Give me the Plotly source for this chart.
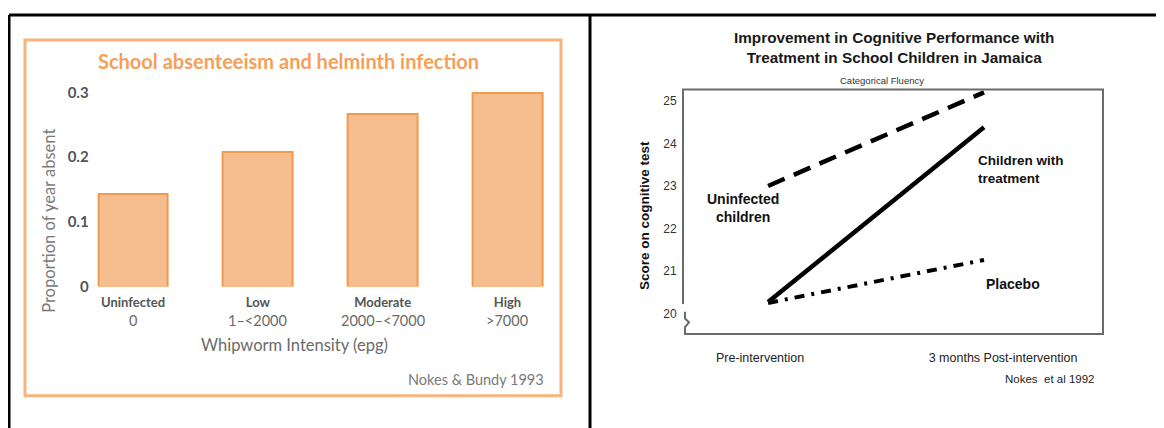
import plotly.graph_objects as go

# ---------------- data ----------------
# Left chart: school absenteeism by whipworm intensity
intensity_groups = ["Uninfected", "Low", "Moderate", "High"]
intensity_ranges = ["0", "1–&lt;2000", "2000–&lt;7000", "&gt;7000"]
proportion_absent = [0.143, 0.208, 0.266, 0.299]
absent_ticks = [0, 0.1, 0.2, 0.3]
absent_ticktext = ["0", "0.1", "0.2", "0.3"]

# Right chart: cognitive test scores pre / post intervention
time_points = [0, 1]  # 0 = Pre-intervention, 1 = 3 months Post-intervention
time_labels = ["Pre-intervention", "3 months Post-intervention"]
uninfected_scores = [23.0, 25.2]
treatment_scores = [20.27, 24.38]
placebo_scores = [20.25, 21.26]
score_ticks = [20, 21, 22, 23, 24, 25]

# ---------------- layout helpers ----------------
# the page body has an 8px margin, so the figure is offset by 8px
OFF = 8
W, H = 1164 - OFF, 428 - OFF


def fx(px):
    return (px - OFF) / W


def fy(py):
    return 1 - (py - OFF) / H


ORANGE_TXT = "#f5a05a"
BAR_FILL = "#f6bd8e"
BAR_LINE = "#f29a4e"
LATO = "Lato, Open Sans, sans-serif"
ARIAL = "Liberation Sans, Arial, sans-serif"

fig = go.Figure()

# ---- left: bars ----
fig.add_trace(go.Bar(
    x=intensity_groups, y=proportion_absent, width=0.56,
    marker=dict(color=BAR_FILL, line=dict(color=BAR_LINE, width=2)),
    xaxis="x", yaxis="y", showlegend=False, hoverinfo="x+y",
))

# ---- right: lines ----
fig.add_trace(go.Scatter(
    x=time_points, y=uninfected_scores, mode="lines",
    line=dict(color="black", width=4.5, dash="18px,10px"),
    xaxis="x2", yaxis="y2", showlegend=False, name="Uninfected children",
))
fig.add_trace(go.Scatter(
    x=time_points, y=treatment_scores, mode="lines",
    line=dict(color="black", width=4.5),
    xaxis="x2", yaxis="y2", showlegend=False, name="Children with treatment",
))
fig.add_trace(go.Scatter(
    x=time_points, y=placebo_scores, mode="lines",
    line=dict(color="black", width=4, dash="10px,7px,3px,7px"),
    xaxis="x2", yaxis="y2", showlegend=False, name="Placebo",
))

annotations = []

# left chart texts
annotations.append(dict(
    text="School absenteeism and helminth infection", x=fx(288), y=fy(57),
    xref="paper", yref="paper", showarrow=False, xanchor="center", yanchor="middle",
    font=dict(family=LATO, size=20, color=ORANGE_TXT, weight="bold"),
))
annotations.append(dict(
    text="Proportion of year absent", x=fx(49), y=fy(222), textangle=-90,
    xref="paper", yref="paper", showarrow=False, xanchor="center", yanchor="middle",
    font=dict(family=LATO, size=16.5, color="#7a7a7a"),
))
for grp, rng in zip(intensity_groups, intensity_ranges):
    annotations.append(dict(
        text=rng, x=grp, y=fy(325), xref="x", yref="paper", showarrow=False,
        xanchor="center", yanchor="middle",
        font=dict(family=LATO, size=14.5, color="#6a6a6a"),
    ))
annotations.append(dict(
    text="Whipworm Intensity (epg)", x=fx(294), y=fy(350),
    xref="paper", yref="paper", showarrow=False, xanchor="center", yanchor="middle",
    font=dict(family=LATO, size=16.5, color="#6a6a6a"),
))
annotations.append(dict(
    text="Nokes & Bundy 1993", x=fx(546), y=fy(386),
    xref="paper", yref="paper", showarrow=False, xanchor="right", yanchor="middle",
    font=dict(family=LATO, size=14.5, color="#7a7a7a"),
))

# right chart texts
annotations.append(dict(
    text="<b>Improvement in Cognitive Performance with<br>Treatment in School Children in Jamaica</b>",
    x=fx(894), y=fy(42.5), xref="paper", yref="paper", showarrow=False,
    xanchor="center", yanchor="middle", align="center",
    font=dict(family=ARIAL, size=15.3, color="#1a1a1a"),
))
annotations.append(dict(
    text="Categorical Fluency", x=fx(882), y=fy(77), xref="paper", yref="paper",
    showarrow=False, xanchor="center", yanchor="middle",
    font=dict(family=ARIAL, size=9.5, color="#333333"),
))
annotations.append(dict(
    text="<b>Score on cognitive test</b>", x=fx(644), y=fy(217), textangle=-90,
    xref="paper", yref="paper", showarrow=False, xanchor="center", yanchor="middle",
    font=dict(family=ARIAL, size=13.5, color="#111111"),
))
annotations.append(dict(
    text="<b>Uninfected<br>children</b>", x=fx(743), y=fy(208.5),
    xref="paper", yref="paper", showarrow=False, xanchor="center", yanchor="middle",
    align="center", font=dict(family=ARIAL, size=14, color="#111111"),
))
annotations.append(dict(
    text="<b>Children with<br>treatment</b>", x=fx(976), y=fy(169),
    xref="paper", yref="paper", showarrow=False, xanchor="left", yanchor="middle",
    align="left", font=dict(family=ARIAL, size=13.5, color="#111111"),
))
annotations.append(dict(
    text="<b>Placebo</b>", x=fx(984), y=fy(287),
    xref="paper", yref="paper", showarrow=False, xanchor="left", yanchor="middle",
    align="left", font=dict(family=ARIAL, size=14, color="#111111"),
))
annotations.append(dict(
    text="Nokes  et al 1992", x=fx(1050), y=fy(386), xref="paper", yref="paper",
    showarrow=False, xanchor="center", yanchor="middle",
    font=dict(family=ARIAL, size=11.5, color="#222222"),
))


def path_px(points):
    out = []
    for cmd, x, y in points:
        out.append(f"{cmd} {fx(x):.5f},{fy(y):.5f}")
    return " ".join(out)


shapes = [
    # outer black table frame
    dict(type="line", xref="paper", yref="paper", x0=fx(9), x1=fx(1180), y0=fy(9), y1=fy(9),
         line=dict(color="black", width=3)),
    dict(type="line", xref="paper", yref="paper", x0=fx(9), x1=fx(9), y0=fy(9), y1=fy(450),
         line=dict(color="black", width=3)),
    dict(type="line", xref="paper", yref="paper", x0=fx(590), x1=fx(590), y0=fy(9), y1=fy(450),
         line=dict(color="black", width=3)),
    # orange frame of left panel
    dict(type="rect", xref="paper", yref="paper", x0=fx(25), x1=fx(561), y0=fy(35), y1=fy(403),
         line=dict(color="#f8b47c", width=3)),
    # plot box of right panel with axis-break squiggle
    dict(type="path", xref="paper", yref="paper",
         path=path_px([("M", 683, 308), ("L", 683, 86), ("L", 1103, 86), ("L", 1103, 339),
                       ("L", 685, 339), ("L", 685, 332), ("L", 689, 327), ("L", 685, 323),
                       ("L", 685, 316)]),
         line=dict(color="#6b6b6b", width=2)),
]

fig.update_layout(
    width=W, height=H, margin=dict(l=0, r=0, t=0, b=0),
    paper_bgcolor="white", plot_bgcolor="rgba(0,0,0,0)",
    bargap=0,
    annotations=annotations, shapes=shapes,
    xaxis=dict(
        domain=[fx(95.6), fx(557.4)], range=[-0.3, 3.4], anchor="y",
        tickvals=intensity_groups, ticktext=[f"<b>{g}</b>" for g in intensity_groups],
        ticks="outside", ticklen=4, tickcolor="rgba(0,0,0,0)",
        tickfont=dict(family=LATO, size=13, color="#555555"),
        showgrid=False, zeroline=False, showline=False,
    ),
    yaxis=dict(
        domain=[fy(290), fy(85.6)], range=[0, 0.305], anchor="x",
        tickvals=absent_ticks, ticktext=[f"<b>{t}</b>" for t in absent_ticktext],
        ticks="outside", ticklen=3, tickcolor="rgba(0,0,0,0)",
        tickfont=dict(family=LATO, size=15, color="#555555"),
        showgrid=False, zeroline=False, showline=False,
    ),
    xaxis2=dict(
        domain=[fx(683), fx(1103)], range=[-0.394, 1.551], anchor="y2",
        tickvals=[-0.037, 1.088], ticktext=time_labels,
        ticks="outside", ticklen=12, tickcolor="rgba(0,0,0,0)",
        tickfont=dict(family=ARIAL, size=12.5, color="#222222"),
        showgrid=False, zeroline=False, showline=False,
    ),
    yaxis2=dict(
        domain=[fy(339), fy(86)], range=[19.52, 25.27], anchor="x2",
        tickvals=score_ticks,
        ticks="outside", ticklen=3, tickcolor="rgba(0,0,0,0)",
        tickfont=dict(family=ARIAL, size=12, color="#333333"),
        showgrid=False, zeroline=False, showline=False,
    ),
)

fig.write_html("out.html")
